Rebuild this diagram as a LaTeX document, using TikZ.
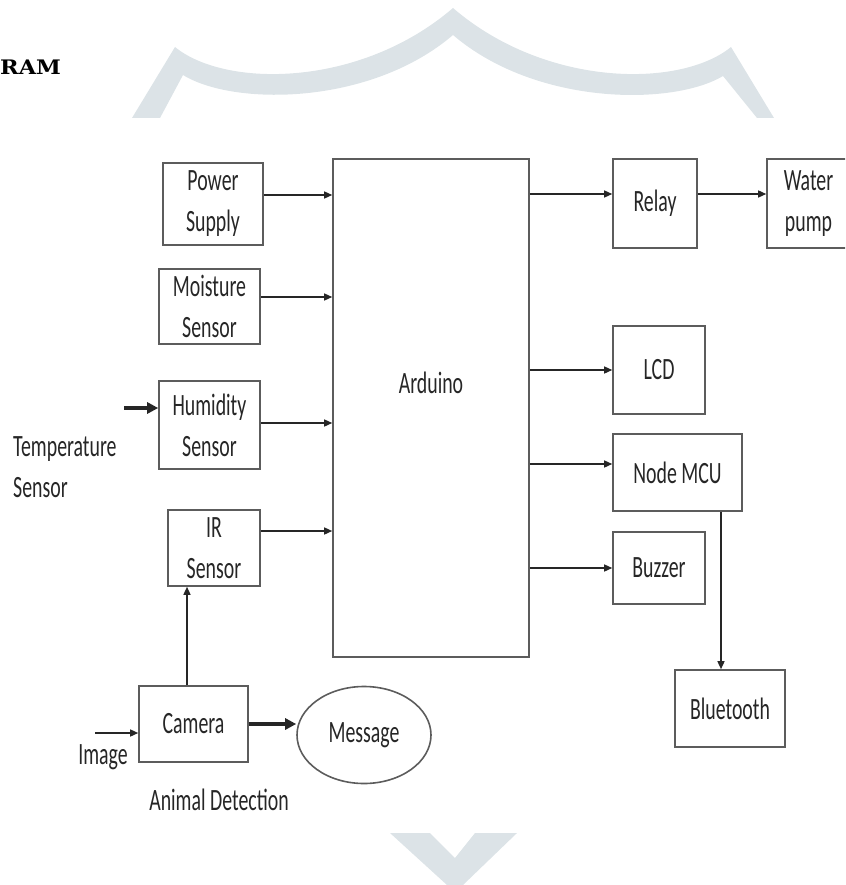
\documentclass[tikz,border=0pt]{standalone}
\usepackage{fontspec}
\usetikzlibrary{arrows.meta, shapes.geometric}
\newfontfamily\diagfont{Carlito}[FakeStretch=0.64]
\newfontfamily\headfont{DejaVu Serif}[FakeStretch=1.12]
\definecolor{bdline}{HTML}{5C5C5C}
\definecolor{bdtext}{HTML}{262626}
\definecolor{bdmark}{HTML}{DCE3E7}

\begin{document}
\begin{tikzpicture}[x=1pt, y=-1pt,
    box/.style={rectangle, draw=bdline, line width=1.6pt, inner sep=0pt,
                align=center, text=bdtext, font=\diagfont\fontsize{31}{41}\selectfont},
    note/.style={inner sep=0pt, text=bdtext, font=\diagfont\fontsize{31}{41}\selectfont},
    arrow/.style={-{Triangle[length=8pt, width=7pt]}, line width=1.4pt, draw=bdtext},
    thick arrow/.style={-{Triangle[length=11pt, width=11pt]}, line width=3.2pt, draw=bdtext}
  ]
    \useasboundingbox (0,0) rectangle (845,885);
    \clip (0,0) rectangle (845,885);

    \fill[bdmark] (132,118) -- (175,47) .. controls (225,88) and (360,88) .. (453,8)
      .. controls (546,88) and (681,88) .. (731,47) -- (774,118) -- (757,118) -- (723,76)
      .. controls (673,106) and (536,106) .. (453,35)
      .. controls (370,106) and (233,106) .. (183,75) -- (160,118) -- cycle;
    \fill[bdmark] (390,833) -- (447,885) -- (463,885) -- (517,833) -- (475,833)
      -- (455,858) -- (430,833) -- cycle;

    \node[anchor=base west, inner sep=0pt, font=\headfont\bfseries\fontsize{20}{22}\selectfont]
      (title) at (0,75) {RAM};

    \node[box, minimum width=100pt, minimum height=82pt] (power) at (213,204) {Power\\Supply};
    \node[box, minimum width=101pt, minimum height=75pt] (moist) at (209.5,306.5) {Moisture\\Sensor};
    \node[box, minimum width=101pt, minimum height=88pt] (humid) at (209.5,425) {Humidity\\Sensor};
    \node[box, minimum width=92pt, minimum height=76pt] (irsens) at (214,548) {IR\\Sensor};
    \node[box, minimum width=196pt, minimum height=498pt, text depth=50pt] (ard) at (431,408) {Arduino};
    \node[box, minimum width=84pt, minimum height=89pt] (relay) at (655,203.5) {Relay};
    \node[box, minimum width=83pt, minimum height=89pt] (pump) at (808.5,203.5) {Water\\pump};
    \node[box, minimum width=92pt, minimum height=88pt] (lcd) at (659,370) {LCD};
    \node[box, minimum width=129pt, minimum height=77pt] (mcu) at (677.5,472.5) {Node MCU};
    \node[box, minimum width=92pt, minimum height=72pt] (buzz) at (659,568) {Buzzer};
    \node[box, minimum width=110pt, minimum height=77pt] (blue) at (730,708.5) {Bluetooth};
    \node[box, minimum width=109pt, minimum height=76pt] (cam) at (193.5,724) {Camera};
    \node[box, ellipse, minimum width=134pt, minimum height=97pt] (msg) at (364,735) {Message};

    \node[note, align=left, anchor=west] (temp) at (13,467) {Temperature\\Sensor};
    \node[note] (img) at (103,757) {Image};
    \node[note] (animal) at (219,800) {Animal Detection};
    \coordinate (tin) at (124,408);
    \coordinate (imgin) at (95,733);

    \draw[arrow] ([yshift=9pt]power.east) -- ([yshift=9pt]power.east -| ard.west);
    \draw[arrow] ([yshift=9.5pt]moist.east) -- ([yshift=9.5pt]moist.east -| ard.west);
    \draw[arrow] ([yshift=2pt]humid.east) -- ([yshift=2pt]humid.east -| ard.west);
    \draw[arrow] ([yshift=17pt]irsens.east) -- ([yshift=17pt]irsens.east -| ard.west);
    \draw[arrow] ([yshift=9.5pt]relay.west -| ard.east) -- ([yshift=9.5pt]relay.west);
    \draw[arrow] ([yshift=9.5pt]relay.east) -- ([yshift=9.5pt]pump.west);
    \draw[arrow] (lcd.west -| ard.east) -- (lcd.west);
    \draw[arrow] ([yshift=8.5pt]mcu.west -| ard.east) -- ([yshift=8.5pt]mcu.west);
    \draw[arrow] (buzz.west -| ard.east) -- (buzz.west);
    \draw[arrow] ([xshift=43.5pt]mcu.south) -- ([xshift=43.5pt]mcu.south |- blue.north);
    \draw[thick arrow] (tin) -- (tin -| humid.west);
    \draw[arrow] (imgin) -- (imgin -| cam.west);
    \draw[arrow] ([xshift=-6.5pt]cam.north) -- ([xshift=-6.5pt]cam.north |- irsens.south);
    \draw[thick arrow] (cam.east) -- (cam.east -| msg.west);
  \end{tikzpicture}
\end{document}
